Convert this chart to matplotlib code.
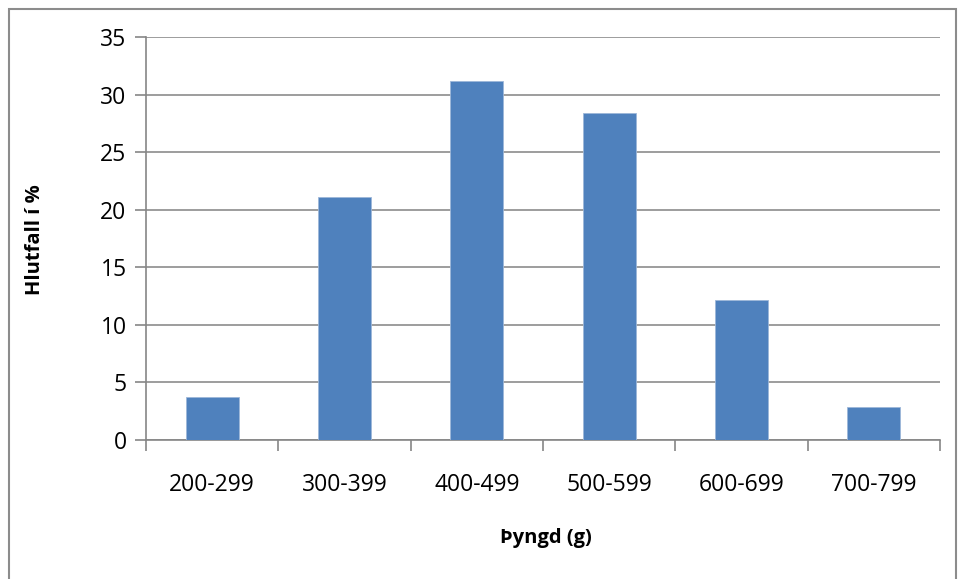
import matplotlib
matplotlib.use("Agg")
import matplotlib.pyplot as plt
from matplotlib.patches import Rectangle

# Data
categories = ["200-299", "300-399", "400-499", "500-599", "600-699", "700-799"]
values = [3.7, 21.1, 31.2, 28.4, 12.2, 2.9]
yticks = [0, 5, 10, 15, 20, 25, 30, 35]

plt.rcParams["font.family"] = ["Open Sans", "DejaVu Sans"]

W, H = 959, 579
fig = plt.figure(figsize=(W / 100, H / 100), dpi=100)

# outer frame of the chart
fig.patches.append(Rectangle((9 / W, -0.02), (956 - 9) / W, (H - 9) / H + 0.02,
                             transform=fig.transFigure, fill=False,
                             edgecolor="#8c8c8c", linewidth=1.5))

ax = fig.add_axes([146 / W, 1 - 440 / H, (940 - 146) / W, (440 - 37) / H])

x = list(range(len(categories)))
ax.bar(x, values, width=0.4, color="#4f81bd", edgecolor="#9db7d9", linewidth=0.6, zorder=3)

ax.set_xlim(-0.5, len(categories) - 0.5)
ax.set_ylim(0, 35)
ax.set_yticks(yticks)
ax.set_xticks([i - 0.5 for i in range(len(categories) + 1)], minor=False)
ax.set_xticklabels([""] * (len(categories) + 1))
ax.set_xticks(x, minor=True)
ax.set_xticklabels(categories, minor=True)
ax.tick_params(axis="x", which="minor", length=0, pad=24, labelsize=16.5)
ax.tick_params(axis="x", which="major", length=8, color="#868686", width=1.2)
ax.tick_params(axis="y", length=8, color="#868686", width=1.2, labelsize=16.5, pad=6)

ax.grid(axis="y", color="#8c8c8c", linewidth=1.2, zorder=0)
for side in ["top", "right"]:
    ax.spines[side].set_visible(False)
for side in ["left", "bottom"]:
    ax.spines[side].set_color("#868686")
    ax.spines[side].set_linewidth(1.2)

fig.text(35 / W, 1 - 240 / H, "Hlutfall í %", rotation=90, fontsize=14.5,
         fontweight="bold", ha="center", va="center")
fig.text(546 / W, 1 - 538 / H, "Þyngd (g)", fontsize=14.5,
         fontweight="bold", ha="center", va="center")

fig.savefig("out.png", dpi=100)
